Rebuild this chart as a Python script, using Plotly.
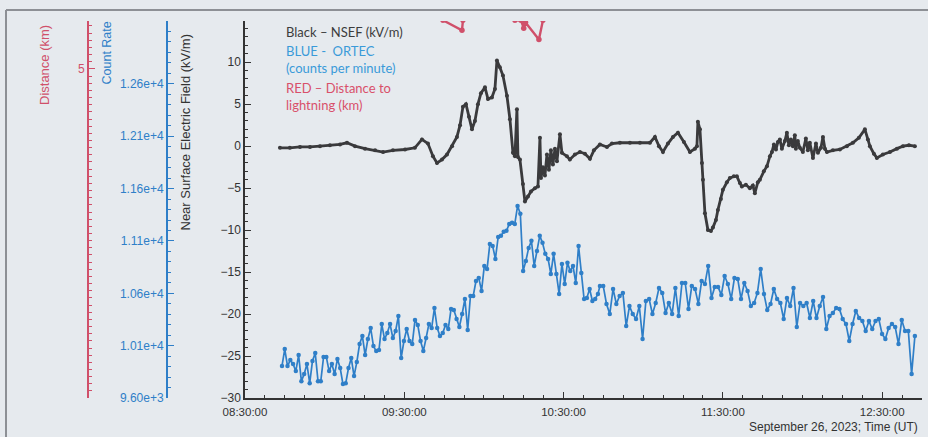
import pandas as pd
import plotly.graph_objects as go

DAY = "2023-09-26 "

# ---------------- data ----------------
# Near-surface electric field (kV/m)
nsef_time = ["08:43:10","08:46:55","08:50:43","08:54:29","08:58:15","09:02:00","09:05:47","09:08:25",
             "09:11:26","09:15:12","09:19:00","09:22:00","09:25:44","09:30:16","09:34:00","09:36:40",
             "09:38:55","09:40:48","09:42:19","09:44:12","09:46:05","09:48:00","09:49:50","09:51:00",
             "09:52:06","09:53:14","09:54:22","09:55:30","09:56:37","09:57:45","09:58:53","10:00:24",
             "10:01:32","10:03:00","10:04:09","10:04:54","10:06:00","10:07:10","10:08:40","10:09:48",
             "10:10:56","10:11:41","10:12:26","10:12:49","10:13:34","10:14:42","10:15:27","10:16:35",
             "10:17:43","10:19:13","10:20:21","10:21:06","10:21:29","10:22:14","10:22:59","10:23:44",
             "10:24:29","10:25:14","10:25:59","10:26:45","10:27:30","10:28:38","10:29:23","10:31:16",
             "10:32:23","10:34:16","10:36:10","10:38:03","10:39:56","10:41:26","10:43:42","10:46:20",
             "10:48:13","10:51:14","10:55:00","10:58:46","11:02:32","11:04:25","11:05:56","11:07:26",
             "11:09:19","11:11:12","11:13:05","11:15:20","11:17:36","11:19:29","11:20:14","11:20:36",
             "11:21:22","11:22:07","11:22:30","11:23:15","11:24:23","11:25:30","11:26:15","11:27:23",
             "11:28:08","11:29:16","11:30:01","11:31:31","11:32:39","11:34:09","11:35:17","11:36:25",
             "11:37:10","11:38:40","11:40:10","11:41:18","11:42:03","11:43:11","11:43:56","11:45:26",
             "11:46:36","11:47:44","11:48:29","11:49:14","11:50:00","11:50:44","11:51:29","11:52:14",
             "11:53:22","11:54:07","11:54:52","11:55:37","11:56:22","11:57:07","11:57:30","11:58:15",
             "11:59:01","12:00:08","12:01:16","12:02:01","12:02:46","12:03:56","12:05:04","12:05:49",
             "12:06:57","12:07:42","12:08:27","12:09:12","12:11:27","12:14:05","12:16:43","12:18:59",
             "12:21:14","12:23:30","12:24:38","12:25:23","12:26:53","12:28:01","12:30:17","12:32:56",
             "12:35:34","12:37:50","12:40:06","12:42:20"]
nsef_kvm = [-0.2,-0.2,-0.1,-0.1,0.0,0.1,0.2,0.4,
            0.0,-0.3,-0.5,-0.7,-0.5,-0.4,-0.2,0.8,
            0.3,-1.2,-2.0,-1.6,-1.0,0.0,1.1,2.5,
            4.7,5.0,3.5,2.0,3.0,5.0,6.3,7.0,
            5.6,5.8,6.8,10.2,9.4,8.4,6.0,3.2,
            -0.8,-1.2,4.4,-1.3,-1.6,-4.5,-6.6,-6.0,
            -5.4,-5.0,-4.8,1.0,-3.8,-2.5,-3.5,-1.0,
            -2.8,-0.5,-2.2,-0.3,-1.8,1.4,-0.8,-1.2,
            -1.6,-1.0,-0.7,-0.9,-1.5,-0.5,0.2,-0.1,
            0.3,0.4,0.4,0.4,0.4,1.1,0.0,-0.7,
            0.3,1.1,1.6,0.5,-0.7,-0.3,0.0,2.9,
            2.0,-2.0,-4.0,-8.0,-10.0,-10.1,-9.7,-8.8,
            -7.6,-6.3,-5.2,-4.3,-3.8,-3.6,-3.6,-4.4,
            -4.8,-4.6,-5.0,-4.7,-5.6,-4.3,-4.0,-3.0,
            -2.4,-1.2,-0.7,0.2,-0.4,0.5,0.8,-0.3,
            0.6,1.6,0.1,0.8,0.0,1.3,-0.3,0.6,
            -0.2,-0.7,0.9,-0.5,0.4,-1.4,0.3,-0.8,
            -0.2,1.1,-0.3,-0.7,-0.5,-0.4,0.0,0.4,
            1.0,2.0,0.8,0.0,-0.9,-1.4,-1.0,-0.7,
            -0.3,0.0,0.1,0.0]

# ORTEC count rate (counts per minute), two read-off stretches
ortec_a_start, ortec_a_end = "08:43:56", "10:42:57"
ortec_a_counts = [9906,10068,9906,9963,9925,9858,10011,9762,9829,9925,
                  9743,9954,10030,9762,9762,9992,9992,9858,9925,9829,
                  9973,9887,9734,9743,9887,9982,9810,9944,10116,10193,
                  10011,10164,10269,10097,10049,10059,10307,10164,10221,10307,
                  10174,10241,10384,9982,10145,10260,10145,10116,10346,10298,
                  10145,10049,10174,10307,10269,10460,10269,10193,10221,10298,
                  10260,10451,10441,10355,10279,10403,10546,10250,10575,10575,
                  10718,10747,10623,10862,10833,11072,11053,10929,11139,11149,
                  11187,11197,11263,11273,11263,11435,11359,10814,10910,11034,
                  11101,10862,11005,11149,11082,10977,10929,10785,10977,10785,
                  10594,10881,10690,10891,10814,10862,10699,11053,10795,10546,
                  10556,10642,10527,10546,10594]
ortec_b_start, ortec_b_end = "10:43:42", "12:42:20"
ortec_b_counts = [10671,10671,10499,10403,10642,10499,10575,10604,10288,10479,
                  10403,10355,10479,10164,10527,10546,10403,10508,10651,10604,
                  10413,10508,10403,10651,10384,10699,10699,10451,10671,10642,
                  10499,10718,10690,10862,10556,10661,10661,10585,10766,10690,
                  10546,10747,10738,10546,10699,10623,10479,10508,10604,10833,
                  10594,10441,10499,10642,10546,10508,10355,10556,10479,10651,
                  10279,10508,10479,10508,10365,10527,10365,10479,10565,10260,
                  10384,10413,10460,10451,10355,10307,10145,10307,10432,10365,
                  10336,10241,10336,10260,10336,10355,10212,10164,10269,10307,
                  10279,10116,10346,10241,10241,9829,10193]

# Distance to lightning (km)
dist_time = ["09:44:34","09:51:44","09:52:06","10:02:00","10:11:41","10:13:56","10:15:00","10:15:40","10:20:43","10:22:14"]
dist_km = [5.68,5.54,5.68,7.0,5.68,5.68,5.57,5.65,5.41,5.68]

count_tickvals = [9600,10100,10600,11100,11600,12100,12600]
count_ticktext = ["9.60e+3","1.01e+4","1.06e+4","1.11e+4","1.16e+4","1.21e+4","1.26e+4"]
x_ticks = ["08:30:00","09:30:00","10:30:00","11:30:00","12:30:00"]

# ---------------- build ----------------
nsef_x = pd.to_datetime([DAY + t for t in nsef_time])
ta = pd.date_range(DAY + ortec_a_start, DAY + ortec_a_end, periods=len(ortec_a_counts))
tb = pd.date_range(DAY + ortec_b_start, DAY + ortec_b_end, periods=len(ortec_b_counts))
ortec_x = list(ta) + list(tb)
ortec_y = ortec_a_counts + ortec_b_counts
dist_x = pd.to_datetime([DAY + t for t in dist_time])

BG = "#e6eaee"
BLACK = "#3a3a3c"
BLUE = "#2f7fc8"
RED = "#d0506a"
FONT = "Liberation Sans"

fig = go.Figure()
fig.add_trace(go.Scatter(x=nsef_x, y=nsef_kvm, mode="lines+markers", yaxis="y",
                         line=dict(color=BLACK, width=2.8), marker=dict(color=BLACK, size=4),
                         name="NSEF"))
fig.add_trace(go.Scatter(x=ortec_x, y=ortec_y, mode="lines+markers", yaxis="y2",
                         line=dict(color=BLUE, width=1.7), marker=dict(color=BLUE, size=4.5),
                         name="ORTEC"))
fig.add_trace(go.Scatter(x=dist_x, y=dist_km, mode="lines+markers", yaxis="y3",
                         line=dict(color=RED, width=2.4), marker=dict(color=RED, size=5.5),
                         name="Distance"))

ydom = [0.089, 0.952]
fig.update_layout(
    width=928, height=437, autosize=False,
    margin=dict(l=0, r=0, t=0, b=0, pad=0, autoexpand=False),
    paper_bgcolor=BG, plot_bgcolor=BG,
    showlegend=False,
    font=dict(family=FONT, size=12, color="#333"),
    xaxis=dict(domain=[0.264, 0.9935], type="date",
               range=[DAY + "08:30:00", DAY + "12:45:00"],
               tickmode="array", tickvals=[DAY + t for t in x_ticks], ticktext=x_ticks,
               ticks="inside", ticklen=6, tickcolor="#333", showline=True, linecolor="#333", linewidth=1.5,
               showgrid=False, zeroline=False, automargin=False, ticklabelstandoff=2,
               minor=dict(ticks="inside", ticklen=3, dtick=450000, tick0=DAY + "08:30:00", tickcolor="#333"),
               tickfont=dict(size=11.5, color="#333"), anchor="y"),
    yaxis=dict(domain=ydom, range=[-30, 14.9], tickmode="linear", tick0=-30, dtick=5,
               ticks="inside", ticklen=6, tickcolor="#333", showline=True, linecolor="#333", linewidth=1.5,
               showgrid=False, zeroline=False, anchor="x", automargin=False,
               minor=dict(ticks="inside", ticklen=3, dtick=1, tickcolor="#333"),
               tickfont=dict(size=12, color="#333")),
    yaxis2=dict(overlaying="y", anchor="free", position=0.18, side="left", automargin=False,
                range=[9600, 13200], tickmode="array", tickvals=count_tickvals, ticktext=count_ticktext,
                ticks="inside", ticklen=6, tickcolor=BLUE, showline=True, linecolor=BLUE, linewidth=2,
                showgrid=False, zeroline=False,
                minor=dict(ticks="inside", ticklen=3, dtick=100, tick0=9600, tickcolor=BLUE),
                tickfont=dict(size=12, color=BLUE)),
    yaxis3=dict(overlaying="y", anchor="free", position=0.0948, side="left", automargin=False,
                range=[0.4, 5.67], tickmode="array", tickvals=[5], ticktext=["5"],
                ticks="inside", ticklen=6, tickcolor=RED, showline=True, linecolor=RED, linewidth=2,
                showgrid=False, zeroline=False,
                minor=dict(ticks="inside", ticklen=3, dtick=0.1, tick0=0, tickcolor=RED),
                tickfont=dict(size=12, color=RED)),
)

ann = [
    dict(text="Distance (km)", x=45/928, y=1-23/437, textangle=-90, yanchor="top", xanchor="center",
         font=dict(size=13, color=RED)),
    dict(text="Count Rate", x=107/928, y=1-20/437, textangle=-90, yanchor="top", xanchor="center",
         font=dict(size=12.5, color=BLUE)),
    dict(text="Near Surface Electric Field (kV/m)", x=185/928, y=1-32/437, textangle=-90,
         yanchor="top", xanchor="center", font=dict(size=13, color="#333")),
    dict(text="September 26, 2023; Time (UT)", x=920/928, y=1-427/437, xanchor="right", yanchor="middle",
         font=dict(size=12, color="#333")),
    dict(text="Black \u2013 NSEF (kV/m)", x=284/928, y=1-32/437, xanchor="left", yanchor="middle",
         font=dict(family="Lato", size=13, color="#3c3c3c")),
    dict(text="BLUE -  ORTEC<br>(counts per minute)", x=284/928, y=1-41/437, xanchor="left", yanchor="top",
         align="left", font=dict(family="Lato", size=13, color="#3a9ad9")),
    dict(text="RED \u2013 Distance to<br>lightning (km)", x=284/928, y=1-78/437, xanchor="left", yanchor="top",
         align="left", font=dict(family="Lato", size=13, color="#d9506a")),
]
for a in ann:
    a.update(xref="paper", yref="paper", showarrow=False)
fig.update_layout(annotations=ann)

fig.add_shape(type="line", xref="paper", yref="paper", x0=6/928, x1=1, y0=1-10/437, y1=1-10/437,
              line=dict(color="#8d9095", width=2))
fig.add_shape(type="line", xref="paper", yref="paper", x0=6/928, x1=6/928, y0=0, y1=1-10/437,
              line=dict(color="#8d9095", width=2))

fig.write_html("out.html")
